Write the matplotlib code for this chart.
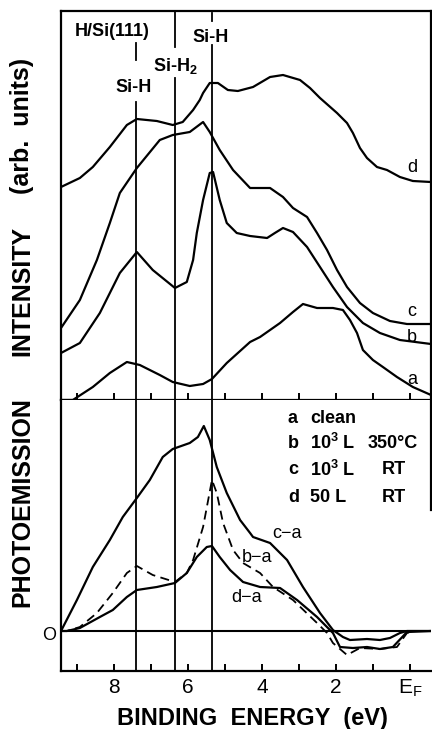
import numpy as np
import matplotlib
matplotlib.use("Agg")
import matplotlib.pyplot as plt

plt.rcParams['font.family'] = ['Liberation Sans', 'DejaVu Sans']
plt.rcParams['mathtext.fontset'] = 'custom'
plt.rcParams['mathtext.rm'] = 'Liberation Sans'
plt.rcParams['mathtext.bf'] = 'Liberation Sans:bold'

# ---- upper panel: spectra (binding energy eV, intensity arb. units)
E_a = [9.43, 9.11, 8.57, 8.11, 7.65, 7.30, 6.76, 6.41, 5.95, 5.59, 5.35, 4.95, 4.32, 4.05,
       3.51, 3.16, 2.89, 2.51, 2.08, 1.81, 1.62, 1.43, 1.27, 1.00, 0.73, 0.35, -0.08, -0.57]
I_a = [0.00, 0.00, 0.13, 0.27, 0.38, 0.35, 0.25, 0.18, 0.14, 0.16, 0.21, 0.37, 0.58, 0.63,
       0.77, 0.88, 0.96, 0.92, 0.92, 0.90, 0.80, 0.67, 0.50, 0.40, 0.33, 0.23, 0.13, 0.05]

E_b = [9.43, 8.92, 8.38, 7.84, 7.38, 6.95, 6.35, 6.03, 5.86, 5.76, 5.59, 5.41, 5.32, 5.14,
       4.95, 4.68, 4.32, 3.86, 3.65, 3.43, 3.16, 2.78, 2.43, 2.08, 1.70, 1.27, 0.81, 0.27,
       -0.57]
I_b = [0.47, 0.57, 0.87, 1.27, 1.48, 1.30, 1.12, 1.18, 1.40, 1.67, 2.00, 2.27, 2.28, 2.00,
       1.77, 1.67, 1.64, 1.62, 1.67, 1.72, 1.68, 1.53, 1.33, 1.13, 0.93, 0.77, 0.67, 0.60,
       0.56]

E_c = [9.43, 8.92, 8.46, 8.11, 7.84, 7.38, 6.76, 6.41, 5.95, 5.59, 5.41, 5.14, 4.78, 4.32,
       3.78, 3.43, 3.16, 2.78, 2.51, 2.24, 1.97, 1.70, 1.35, 1.00, 0.54, 0.08, -0.57]
I_c = [0.72, 1.00, 1.40, 1.77, 2.07, 2.32, 2.60, 2.65, 2.68, 2.78, 2.68, 2.50, 2.30, 2.12,
       2.12, 2.03, 1.92, 1.83, 1.67, 1.50, 1.30, 1.13, 0.97, 0.87, 0.79, 0.76, 0.76]

E_d = [9.43, 8.92, 8.57, 8.11, 7.65, 7.38, 6.84, 6.41, 6.14, 5.86, 5.68, 5.59, 5.41, 5.19,
       4.92, 4.65, 4.24, 3.78, 3.43, 2.97, 2.70, 2.43, 1.97, 1.70, 1.54, 1.35, 1.16, 0.89,
       0.62, 0.27, -0.08, -0.57]
I_d = [2.13, 2.22, 2.33, 2.53, 2.75, 2.81, 2.79, 2.75, 2.78, 2.90, 3.00, 3.07, 3.17, 3.17,
       3.10, 3.09, 3.13, 3.23, 3.25, 3.20, 3.12, 3.02, 2.87, 2.77, 2.67, 2.52, 2.42, 2.33,
       2.30, 2.23, 2.19, 2.18]

# ---- lower panel: difference spectra
E_ca = [9.43, 9.00, 8.57, 8.11, 7.76, 7.38, 7.03, 6.68, 6.41, 5.95, 5.73, 5.57, 5.41, 5.22,
        4.95, 4.59, 4.32, 4.24, 3.78, 3.32, 2.89, 2.43, 2.08, 1.81, 1.62, 1.16, 0.81, 0.54,
        0.27, 0.08, -0.57]
I_ca = [0.00, 0.31, 0.64, 0.91, 1.14, 1.33, 1.51, 1.74, 1.82, 1.88, 1.94, 2.05, 1.91, 1.64,
        1.38, 1.11, 0.98, 0.94, 0.88, 0.71, 0.44, 0.18, 0.01, -0.06, -0.09, -0.08, -0.09,
        -0.07, -0.02, 0.00, 0.00]

E_ba = [9.43, 9.27, 8.92, 8.46, 8.03, 7.65, 7.38, 6.95, 6.35, 6.03, 5.86, 5.59, 5.35, 5.22,
        5.05, 4.78, 4.51, 4.05, 3.70, 3.16, 2.51, 2.24, 2.08, 1.70, 1.35, 0.81, 0.35, 0.08,
        -0.14, -0.57]
I_ba = [0.00, 0.00, 0.04, 0.18, 0.38, 0.58, 0.65, 0.56, 0.49, 0.58, 0.71, 1.04, 1.51, 1.38,
        1.08, 0.81, 0.68, 0.58, 0.44, 0.31, 0.08, -0.02, -0.12, -0.24, -0.17, -0.18, -0.16,
        -0.02, 0.00, 0.00]

E_da = [9.43, 9.27, 8.92, 8.38, 8.03, 7.65, 7.38, 6.84, 6.35, 6.03, 5.76, 5.49, 5.35, 5.14,
        4.86, 4.51, 4.05, 3.51, 3.05, 2.51, 2.08, 1.89, 1.54, 1.16, 0.81, 0.46, 0.08, -0.57]
I_da = [0.00, 0.00, 0.03, 0.14, 0.21, 0.34, 0.41, 0.44, 0.48, 0.58, 0.74, 0.84, 0.85, 0.74,
        0.61, 0.49, 0.44, 0.43, 0.31, 0.14, -0.02, -0.16, -0.17, -0.16, -0.18, -0.16, -0.01,
        0.00]

line_pos = [7.4, 6.35, 5.35]   # Si-H, Si-H2, Si-H
xticks = list(range(10))
xticklabels = [r'$\mathrm{E_F}$', '', '2', '', '4', '', '6', '', '8', '']

legend_lines = [('a', 'clean', '', ''),
                ('b', r'10$^\mathbf{3}$ L', '350°C', ''),
                ('c', r'10$^\mathbf{3}$ L', '', 'RT'),
                ('d', '50 L', '', 'RT')]

W, H = 432, 729
fig = plt.figure(figsize=(W / 100, H / 100), dpi=100)

def fx(px):
    return px / W

def fy(py):
    return 1 - py / H

x0, x1 = 61, 431
ax_t = fig.add_axes([fx(x0), fy(400), fx(x1) - fx(x0), fy(11) - fy(400)])
ax_b = fig.add_axes([fx(x0), fy(671), fx(x1) - fx(x0), fy(400) - fy(671)])

xlim = (9.43, -0.57)
lw = 1.6
for ax in (ax_t, ax_b):
    ax.set_xlim(*xlim)
    ax.set_yticks([])
    for s in ax.spines.values():
        s.set_linewidth(1.6)
    ax.set_xticks(xticks)
    ax.tick_params(axis='x', direction='in', length=5, width=1.4)

ax_t.set_ylim(0, 3.89)
ax_b.set_ylim(-0.40, 2.31)
ax_t.set_xticklabels([])
ax_b.set_xticklabels(xticklabels, fontsize=15)
ax_b.tick_params(axis='x', pad=5)
ax_b.spines['top'].set_visible(False)
ax_b.spines['right'].set_bounds(1.21, 2.31)

# spectra
for E, I in [(E_a, I_a), (E_b, I_b), (E_c, I_c), (E_d, I_d)]:
    ax_t.plot(E, I, color='black', lw=lw, solid_joinstyle='round')
ax_b.plot(E_ca, I_ca, color='black', lw=lw, solid_joinstyle='round')
ax_b.plot(E_da, I_da, color='black', lw=lw, solid_joinstyle='round')
ax_b.plot(E_ba, I_ba, color='black', lw=1.3, linestyle=(0, (5, 3)))
ax_b.axhline(0, color='black', lw=1.5)

# vertical marker lines (with gaps for labels)
segs = {7.4: [(0, 2.98), (3.40, 3.57)],
        6.35: [(0, 3.22), (3.53, 3.89)],
        5.35: [(0, 3.55), (3.79, 3.87)]}
for e in line_pos:
    for lo, hi in segs[e]:
        ax_t.plot([e, e], [lo, hi], color='black', lw=1.3)
    ax_b.plot([e, e], [-0.40, 2.31], color='black', lw=1.3)

bold = dict(fontweight='bold', fontsize=13)
ax_t.text(8.05, 3.68, 'H/Si(111)', ha='center', va='center', **bold)
ax_t.text(5.38, 3.63, 'Si-H', ha='center', va='center', **bold)
ax_t.text(6.95, 3.34, r'Si-H$_\mathbf{2}$', ha='left', va='center', **bold)
ax_t.text(7.46, 3.13, 'Si-H', ha='center', va='center', **bold)

for lab, y in [('d', 2.33), ('c', 0.88), ('b', 0.63), ('a', 0.20)]:
    ax_t.text(-0.06, y, lab, ha='center', va='center', fontsize=13)

ax_b.text(3.32, 0.98, 'c\u2212a', ha='center', va='center', fontsize=13)
ax_b.text(4.14, 0.73, 'b\u2212a', ha='center', va='center', fontsize=13)
ax_b.text(4.41, 0.33, 'd\u2212a', ha='center', va='center', fontsize=13)
ax_b.text(9.76, -0.05, 'O', ha='center', va='center', fontsize=13, clip_on=False)

for (let, dose, temp, rt), y in zip(legend_lines, [2.13, 1.88, 1.61, 1.34]):
    ax_b.text(3.30, y, let, ha='left', va='center', **bold)
    ax_b.text(2.70, y, dose, ha='left', va='center', **bold)
    if temp:
        ax_b.text(1.14, y, temp, ha='left', va='center', **bold)
    if rt:
        ax_b.text(0.76, y, rt, ha='left', va='center', **bold)

# axis titles
yl = dict(rotation=90, ha='center', va='center', fontweight='bold', fontsize=18)
fig.text(fx(22), fy(126), '(arb.  units)', **yl)
fig.text(fx(22), fy(291), 'INTENSITY', **yl)
fig.text(fx(22), fy(502), 'PHOTOEMISSION', **yl)
fig.text(fx(252), fy(718), 'BINDING  ENERGY  (eV)', ha='center', va='center',
         fontweight='bold', fontsize=17)

fig.savefig('out.png', dpi=100)
